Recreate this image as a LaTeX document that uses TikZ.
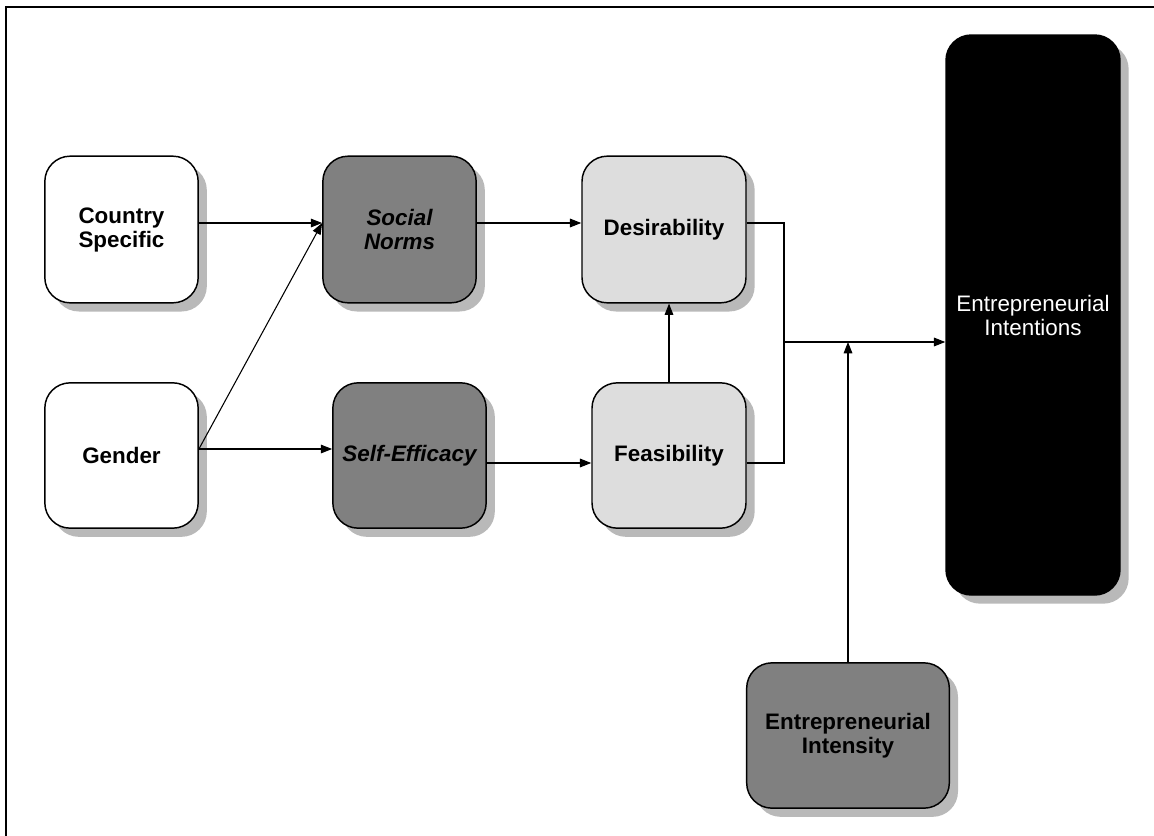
\documentclass[tikz,border=0pt]{standalone}
\usepackage{fontspec}
\setmainfont{Liberation Sans}
\usetikzlibrary{arrows.meta,shadows}
\begin{document}
\begin{tikzpicture}[x=0.75pt,y=-0.75pt,
    box/.style={draw,line width=1.1pt,rounded corners=19pt,align=center,inner sep=0pt,
      font=\fontsize{16.8}{18}\selectfont\bfseries,
      general shadow={fill=gray!55,shadow xshift=6.5pt,shadow yshift=-6.5pt}},
    link/.style={-{Triangle[length=8.5pt,width=6.5pt]},line width=0.8pt}]
  \useasboundingbox (0,0) rectangle (1154,836);
  \draw[line width=1.8pt] (6,836) -- (6,7) -- (1154,7);
  % boxes
  \node[box,fill=white,minimum width=115pt,minimum height=110pt] (country) at (121.5,229.5) {Country\\Specific};
  \node[box,fill=white,minimum width=115pt,minimum height=109pt] (gender) at (121.5,455.5) {Gender};
  \node[box,fill=gray,minimum width=115pt,minimum height=110pt,font=\fontsize{16.8}{18}\selectfont\bfseries\itshape] (norms) at (399.5,229.5) {Social\\Norms};
  \node[box,fill=gray,minimum width=115pt,minimum height=109pt,font=\fontsize{16.8}{18}\selectfont\bfseries\itshape] (efficacy) at (409.5,455.5) {Self-Efficacy};
  \node[box,fill=gray!27,minimum width=123pt,minimum height=110pt] (desir) at (664,229.5) {Desirability};
  \node[box,fill=gray!27,minimum width=115.5pt,minimum height=109pt] (feas) at (669,455.5) {Feasibility};
  \node[box,fill=gray,minimum width=152pt,minimum height=109pt] (intensity) at (848,735.5) {Entrepreneurial\\Intensity};
  \node[box,fill=black,text=white,minimum width=130.5pt,minimum height=420pt,font=\fontsize{16.8}{18}\selectfont] (intentions) at (1033,315) {Entrepreneurial\\Intentions};
  % rows of the connectors
  \coordinate (upper) at (0,223);
  \coordinate (glow) at (0,449);
  \coordinate (flow) at (0,463);
  \coordinate (join) at (784,342);
  % connectors
  \draw[link] (country.east |- upper) -- (norms.west |- upper);
  \draw[link] (gender.east |- glow) -- (norms.west |- upper);
  \draw[link] (gender.east |- glow) -- (efficacy.west |- glow);
  \draw[link] (norms.east |- upper) -- (desir.west |- upper);
  \draw[link] (efficacy.east |- flow) -- (feas.west |- flow);
  \draw[link] (feas.north) -- (feas.north |- desir.south);
  \draw[line width=0.8pt] (desir.east |- upper) -| (join);
  \draw[line width=0.8pt] (feas.east |- flow) -| (join);
  \draw[link] (join) -- (intentions.west |- join);
  \draw[link] (intensity.north) -- (intensity.north |- join);
\end{tikzpicture}
\end{document}
